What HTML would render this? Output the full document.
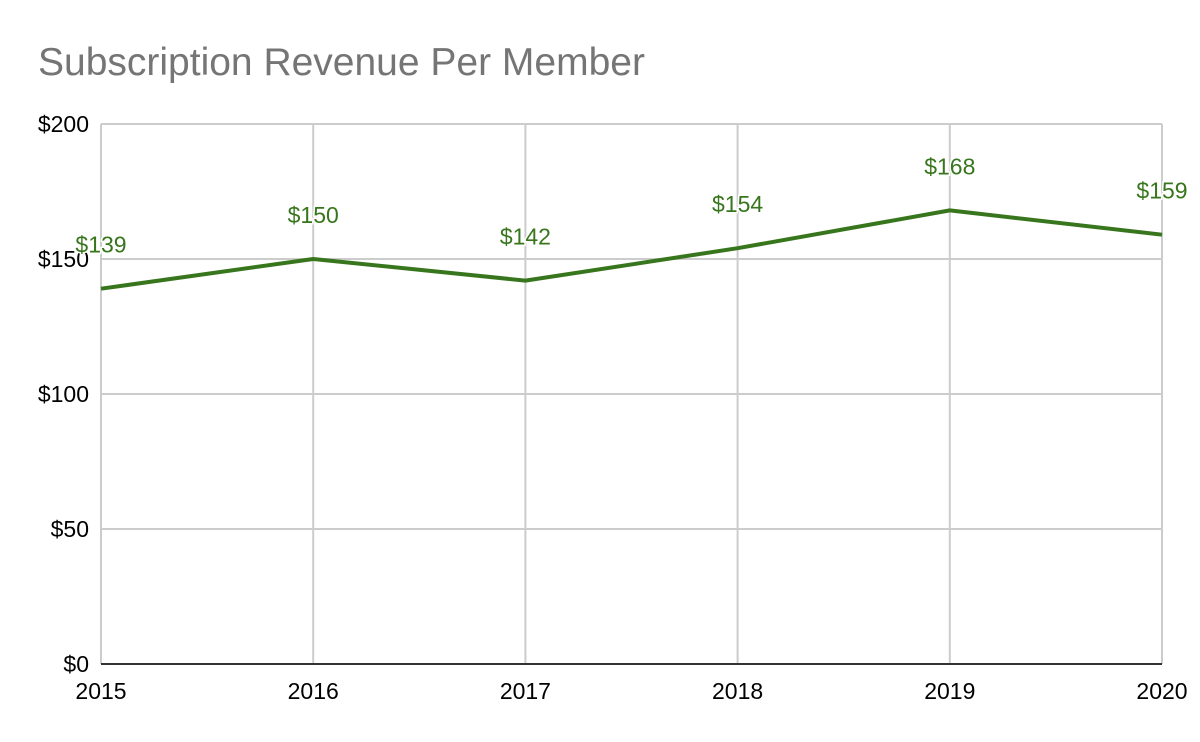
<!DOCTYPE html>
<html><head><meta charset="utf-8"><style>
html,body{margin:0;padding:0;background:#fff;}
svg{display:block;font-family:"Liberation Sans",Arial,sans-serif;}
</style></head><body>
<svg id="chart" width="1200" height="742" viewBox="0 0 1200 742">
<rect width="1200" height="742" fill="#fff"/>
<text x="38" y="75" font-size="39" fill="#757575">Subscription Revenue Per Member</text>
<g id="grid"></g><g id="series"></g><g id="labels"></g>
</svg>
<script>
const years = ["2015","2016","2017","2018","2019","2020"];
const values = [139, 150, 142, 154, 168, 159];
const yTicks = [0, 50, 100, 150, 200];
const yTickLabels = ["$0","$50","$100","$150","$200"];

const L=101, R=1162, T=124, B=664, yMax=200;
const NS="http://www.w3.org/2000/svg";
function x(i){return L+(R-L)*i/(years.length-1);}
function y(v){return B-(B-T)*v/yMax;}
function mk(tag,attrs,parent,text){const e=document.createElementNS(NS,tag);for(const k in attrs)e.setAttribute(k,attrs[k]);if(text!==undefined)e.textContent=text;parent.appendChild(e);return e;}
const grid=document.getElementById('grid'), series=document.getElementById('series'), labels=document.getElementById('labels');

yTicks.forEach((t,i)=>{
  if(t!==0){
    const g=mk('line',{x1:L,x2:R,y1:y(t),y2:y(t),stroke:'#cccccc','stroke-width':2},grid);
    
    
  }
  const lb=mk('text',{x:89,y:y(t)+8,'text-anchor':'end','font-size':23,fill:'#000'},grid,yTickLabels[i]);
  
  
});
years.forEach((yr,i)=>{
  const g=mk('line',{x1:x(i),x2:x(i),y1:T,y2:B,stroke:'#cccccc','stroke-width':2},grid);
  
  
  const lb=mk('text',{x:x(i),y:699,'text-anchor':'middle','font-size':23,fill:'#000'},grid,yr);
  
  
});
const axis=mk('line',{x1:L,x2:R,y1:B,y2:B,stroke:'#333','stroke-width':2},grid);



const pts=values.map((v,i)=>x(i)+','+y(v)).join(' ');
const line=mk('polyline',{points:pts,fill:'none',stroke:'#38761d','stroke-width':4,'stroke-linejoin':'round'},series);



values.forEach((v,i)=>{
  const t=mk('text',{x:x(i),y:y(v)-36,'text-anchor':'middle','font-size':23,fill:'#38761d',stroke:'#fff','stroke-width':3,'paint-order':'stroke'},labels,'$'+v);
  
  
});
</script>
</body></html>
